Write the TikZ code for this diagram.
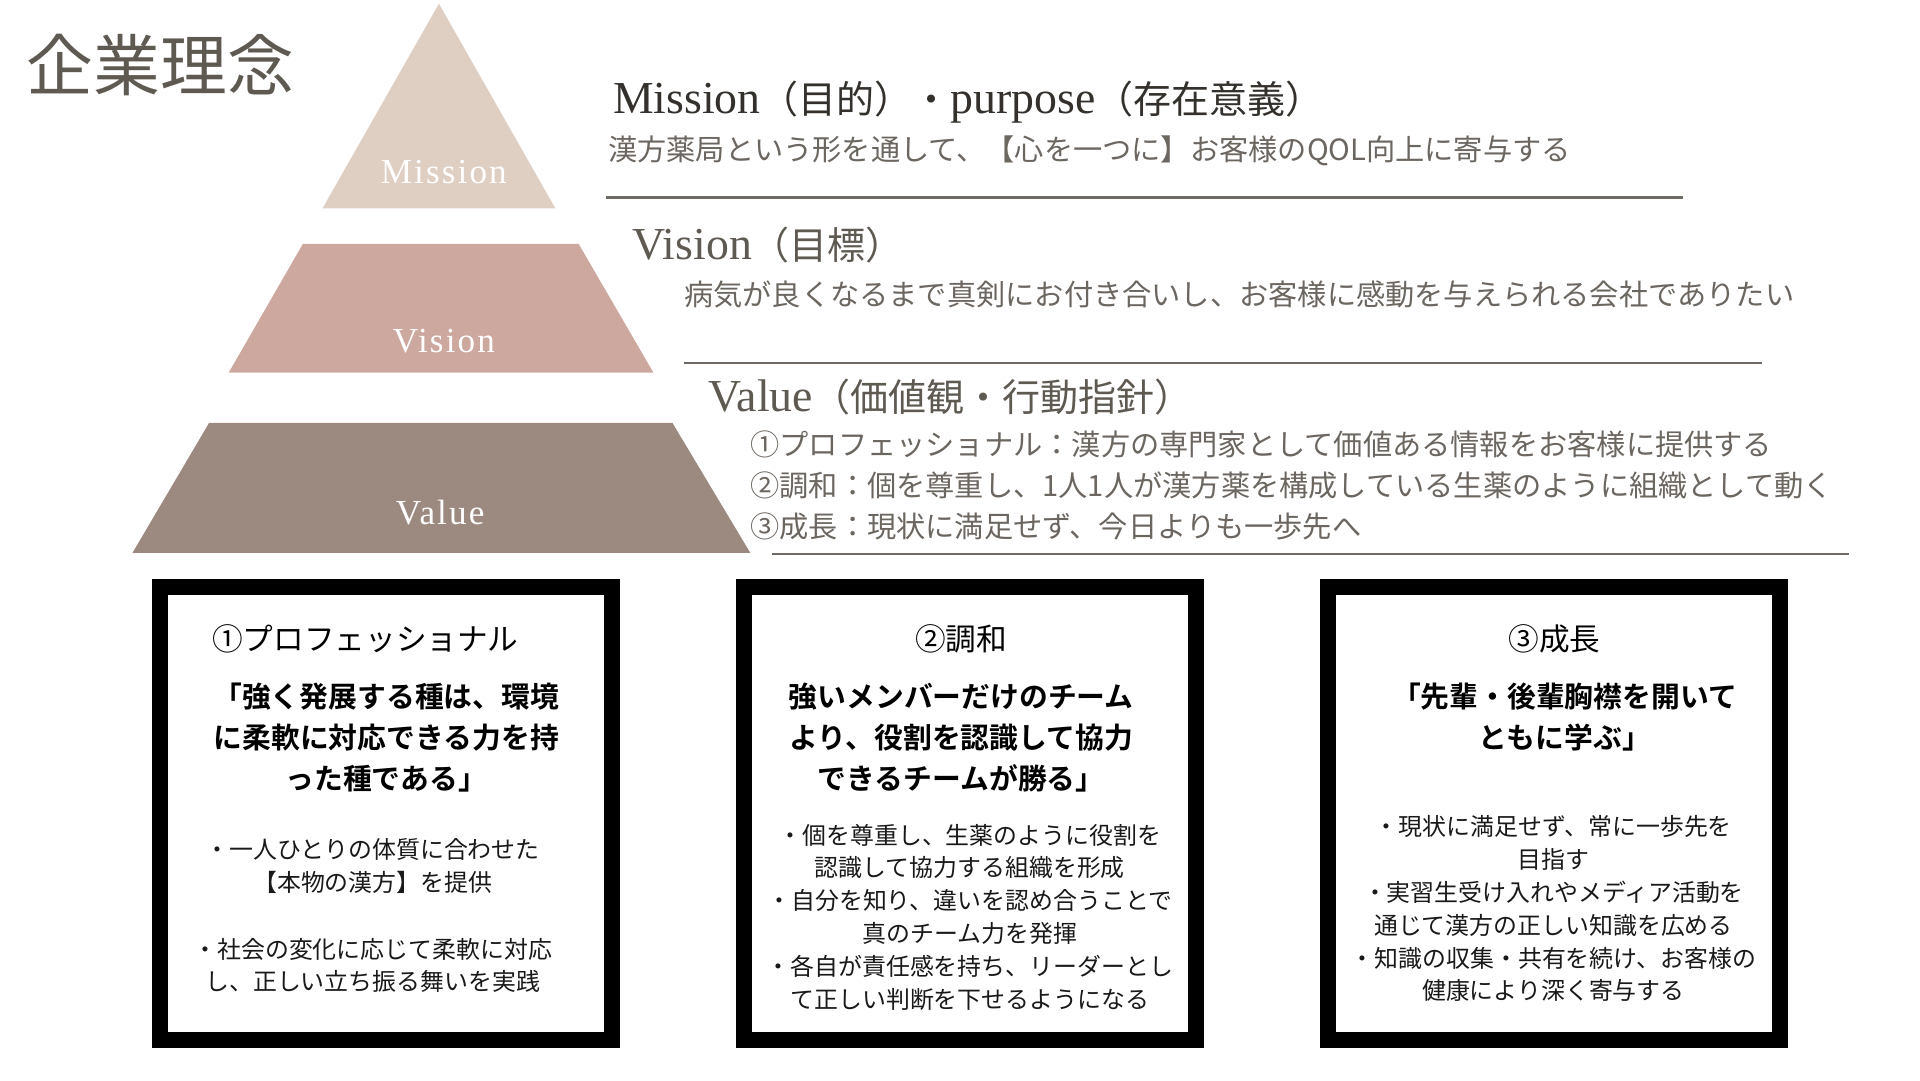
\documentclass[tikz,border=0pt]{standalone}
\usepackage{fontspec}
\setmainfont{Noto Sans CJK JP}[BoldFont={Noto Sans CJK JP Bold}]
\newfontfamily\lat{Liberation Serif}
\newfontfamily\tierfont{Liberation Serif}[LetterSpace=6.0]
\usepackage{tikz}
\usetikzlibrary{positioning}

\definecolor{missionc}{HTML}{DFCFC3}
\definecolor{visionc}{HTML}{CCA89F}
\definecolor{valuec}{HTML}{9C8980}
\definecolor{inkgray}{HTML}{5E5A52}
\definecolor{headdark}{HTML}{34312D}
\definecolor{subgray}{HTML}{6C6660}
\definecolor{rulegray}{HTML}{6F6A64}

\newcommand\headlat[1]{{\lat\fontsize{22.4pt}{24pt}\selectfont #1}}

\begin{document}
\begin{tikzpicture}[
  x=0.6pt, y=-0.6pt,
  every node/.style={inner sep=0pt, outer sep=0pt},
  title/.style={anchor=west, text=inkgray, font=\fontsize{32.7pt}{36pt}\selectfont},
  tier/.style={text=white, font=\tierfont\fontsize{17.2pt}{18pt}\selectfont},
  head/.style={anchor=west, text=inkgray, font=\fontsize{18.6pt}{22pt}\selectfont},
  sub/.style={anchor=west, text=subgray, font=\fontsize{14.3pt}{20.1pt}\selectfont},
  rule/.style={draw=rulegray, line width=1.2pt},
  frame/.style={draw=black, line width=7.8pt, minimum width=221.4pt, minimum height=222pt},
  boxhead/.style={text=black, font=\fontsize{15pt}{18pt}\selectfont},
  motto/.style={anchor=north, align=center, text=black, font=\fontsize{14.1pt}{20.1pt}\selectfont\bfseries},
  bullet/.style={anchor=north, align=center, text=black!90, font=\fontsize{11.7pt}{16.1pt}\selectfont}
]
\useasboundingbox (0,0) rectangle (1566,881);

% title
\node[title] (title) at (22,53) {企業理念};

% pyramid
\fill[missionc] (358,3) -- (453,170) -- (263,170) -- cycle;
\fill[visionc] (247,199) -- (472,199) -- (533,304) -- (186.5,304) -- cycle;
\fill[valuec] (170.5,345) -- (548.5,345) -- (612,451) -- (108,451) -- cycle;
\node[tier] (missionTier) at (362,140) {Mission};
\node[tier] (visionTier) at (362,278) {Vision};
\node[tier] (valueTier) at (359,418) {Value};

% mission / vision / value texts
\node[head, text=headdark] (missionHead) at (500,83) {\headlat{Mission}（目的）・\headlat{purpose}（存在意義）};
\node[sub] (missionText) at (496,123) {漢方薬局という形を通して、【心を一つに】お客様のQOL向上に寄与する};
\draw[rule] (494,161) -- (1373,161);

\node[head] (visionHead) at (516,200) {\headlat{Vision}（目標）};
\node[sub] (visionText) at (558,240) {病気が良くなるまで真剣にお付き合いし、お客様に感動を与えられる会社でありたい};
\draw[rule] (558,296) -- (1437,296);

\node[head] (valueHead) at (578,324) {\headlat{Value}（価値観・行動指針）};
\node[sub, anchor=north west, align=left] (valueList) at (612,351)
  {①プロフェッショナル：漢方の専門家として価値ある情報をお客様に提供する\\
   ②調和：個を尊重し、1人1人が漢方薬を構成している生薬のように組織として動く\\
   ③成長：現状に満足せず、今日よりも一歩先へ};
\draw[rule] (630,452) -- (1508,452);

% value boxes
\node[frame] (pro) at (315,663.5) {};
\node[boxhead] (proHead) at (298,521) {①プロフェッショナル};
\node[motto] (proMotto) at (315,557) {「強く発展する種は、環境\\に柔軟に対応できる力を持\\った種である」};
\node[bullet] (proA) at (304,684) {・一人ひとりの体質に合わせた\\【本物の漢方】を提供};
\node[bullet] (proB) at (304,765) {・社会の変化に応じて柔軟に対応\\し、正しい立ち振る舞いを実践};

\node[frame] (harmony) at (791,663.5) {};
\node[boxhead] (harmonyHead) at (784,521) {②調和};
\node[motto] (harmonyMotto) at (784,557) {強いメンバーだけのチーム\\より、役割を認識して協力\\できるチームが勝る」};
\node[bullet] (harmonyList) at (791,672)
  {・個を尊重し、生薬のように役割を\\認識して協力する組織を形成\\
   ・自分を知り、違いを認め合うことで\\真のチーム力を発揮\\
   ・各自が責任感を持ち、リーダーとし\\て正しい判断を下せるようになる};

\node[frame] (growth) at (1267.5,663.5) {};
\node[boxhead] (growthHead) at (1268,521) {③成長};
\node[motto] (growthMotto) at (1276,557) {「先輩・後輩胸襟を開いて\\ともに学ぶ」};
\node[bullet] (growthList) at (1267,665)
  {・現状に満足せず、常に一歩先を\\目指す\\
   ・実習生受け入れやメディア活動を\\通じて漢方の正しい知識を広める\\
   ・知識の収集・共有を続け、お客様の\\健康により深く寄与する};
\end{tikzpicture}
\end{document}
